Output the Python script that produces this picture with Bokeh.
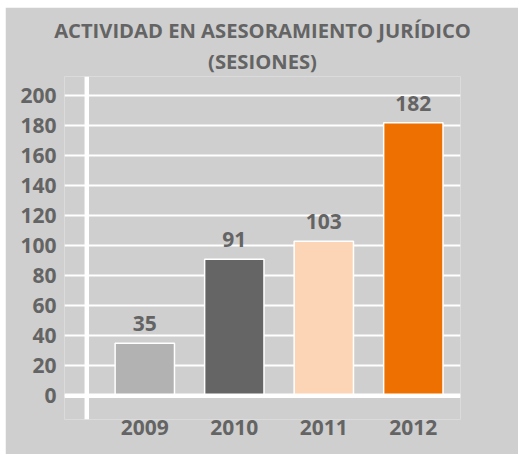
from bokeh.plotting import figure
from bokeh.models import Range1d, FixedTicker, Span, Title, LabelSet, ColumnDataSource
from bokeh.core.properties import value
from bokeh.embed import file_html
from bokeh.resources import INLINE

years = ["2009", "2010", "2011", "2012"]
sessions = [35, 91, 103, 182]
bar_colors = ["#b2b2b2", "#656565", "#fbd5b5", "#ee7000"]
y_ticks = [0, 20, 40, 60, 80, 100, 120, 140, 160, 180, 200]
title_lines = ["ACTIVIDAD EN ASESORAMIENTO JURÍDICO", "(SESIONES)"]

BG = "#cfcfcf"
TXT = "#646464"
FONT = "Open Sans"

xs = list(range(len(years)))
src = ColumnDataSource(dict(x=xs, top=sessions, color=bar_colors,
                            label=[str(v) for v in sessions]))

Y0, Y1 = -15.8, 212.9
p = figure(width=513, height=447, output_backend="svg", toolbar_location=None,
           x_range=Range1d(-0.897, 3.527), y_range=Range1d(Y0, Y1),
           min_border_left=59, min_border_right=58, min_border_top=0,
           min_border_bottom=35,
           background_fill_color=BG, border_fill_color=BG, outline_line_color=None)
p.margin = (7, 0, 0, 5)

# title: spacer (outermost) + two centred lines
p.title.text = " "
p.title.text_font_size = "5.8px"
p.title.standoff = 0
# titles added later sit further from the frame: add the second line first
p.add_layout(Title(text=title_lines[1], align="center", offset=4,
                   text_font=FONT, text_font_size="20.2px", text_font_style="bold",
                   text_color=TXT, standoff=4), "above")
p.add_layout(Title(text=title_lines[0], align="center", offset=4,
                   text_font=FONT, text_font_size="20.2px", text_font_style="bold",
                   text_color=TXT, standoff=-2.7), "above")

# grid
p.xgrid.visible = False
p.ygrid.ticker = FixedTicker(ticks=y_ticks)
p.ygrid.grid_line_color = "white"
p.ygrid.grid_line_width = 2

# axes
p.yaxis.ticker = FixedTicker(ticks=y_ticks)
p.yaxis.axis_line_color = None
p.yaxis.major_tick_line_color = None
p.yaxis.minor_tick_line_color = None
p.yaxis.major_tick_out = 0
p.yaxis.major_tick_in = 0
p.yaxis.major_label_standoff = 8
p.yaxis.major_label_text_font = FONT
p.yaxis.major_label_text_font_size = "21px"
p.yaxis.major_label_text_font_style = "bold"
p.yaxis.major_label_text_color = TXT

p.xaxis.ticker = FixedTicker(ticks=xs)
p.xaxis.major_label_overrides = {i: y for i, y in zip(xs, years)}
p.xaxis.axis_line_color = None
p.xaxis.major_tick_line_color = None
p.xaxis.minor_tick_line_color = None
p.xaxis.major_tick_out = 0
p.xaxis.major_tick_in = 0
p.xaxis.major_label_standoff = 0
p.xaxis.major_label_text_font = FONT
p.xaxis.major_label_text_font_size = "21px"
p.xaxis.major_label_text_font_style = "bold"
p.xaxis.major_label_text_color = TXT

# bars
p.vbar(x="x", top="top", bottom=0, width=0.663, fill_color="color",
       line_color="white", line_width=1.5, source=src)

# value labels
p.add_layout(LabelSet(x="x", y="top", text="label", source=src,
                      text_align="center", text_baseline="alphabetic", y_offset=12,
                      text_font=value(FONT), text_font_style="bold",
                      text_font_size="21px", text_color=TXT))

# axis lines (white): baseline and vertical axis
p.add_layout(Span(location=0, dimension="width", line_color="white", line_width=4.5))
p.add_layout(Span(location=-0.648, dimension="height", line_color="white", line_width=4.5))

open("out.html", "w").write(file_html(p, INLINE))
